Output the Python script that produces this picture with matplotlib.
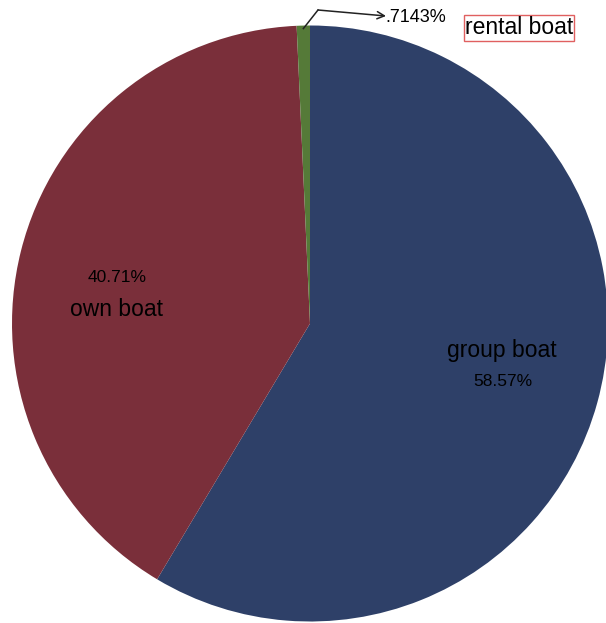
import numpy as np
import matplotlib.pyplot as plt

plt.rcParams['font.family'] = ['Liberation Sans', 'DejaVu Sans']

# boat usage shares (percent)
labels = ['group boat', 'own boat', 'rental boat']
shares = [58.57, 40.71, 0.7143]
pct_text = ['58.57%', '40.71%', '.7143%']
colors = ['#2e4068', '#7a2f3a', '#557a38']

W, H = 606, 623
cx, cy, R = 310, 323.5, 298.0


def px(x, y):
    # pixel position -> data units of the pie (radius 1)
    return (x - cx) / R, (cy - y) / R


fig = plt.figure(figsize=(W / 100, H / 100), dpi=100)
ax = fig.add_axes([0, 0, 1, 1])

wedges, _ = ax.pie(shares, colors=colors, startangle=90, counterclock=False,
                   radius=1.0, wedgeprops=dict(linewidth=0))

ax.set_xlim(-cx / R, (W - cx) / R)
ax.set_ylim(-(H - cy) / R, cy / R)
ax.set_aspect('auto')
ax.axis('off')

# labels inside the two big slices
ax.text(*px(117, 277), pct_text[1], ha='center', va='center', fontsize=12.5)
ax.text(*px(116, 310), labels[1], ha='center', va='center', fontsize=16.5)
ax.text(*px(502, 350), labels[0], ha='center', va='center', fontsize=16.5)
ax.text(*px(503, 382), pct_text[0], ha='center', va='center', fontsize=12.5)

# leader line for the thin rental slice
w = wedges[2]
mid = np.deg2rad((w.theta1 + w.theta2) / 2)
start = (np.cos(mid) * 0.99, np.sin(mid) * 0.99)
elbow = px(318, 10)
ax.plot([start[0], elbow[0]], [start[1], elbow[1]], color='#222222', lw=1.1,
        clip_on=False)
ax.annotate('', xy=px(386, 16), xytext=elbow,
            arrowprops=dict(arrowstyle='->', color='#222222', lw=1.1,
                            shrinkA=0, shrinkB=0, mutation_scale=13),
            annotation_clip=False)
ax.text(*px(385, 17), pct_text[2], ha='left', va='center', fontsize=13)

ax.text(*px(519, 28), labels[2], ha='center', va='center', fontsize=16.5,
        bbox=dict(boxstyle='square,pad=0.05', facecolor='white',
                  edgecolor='#e06060', linewidth=1.0))

fig.savefig('out.png', dpi=100)
